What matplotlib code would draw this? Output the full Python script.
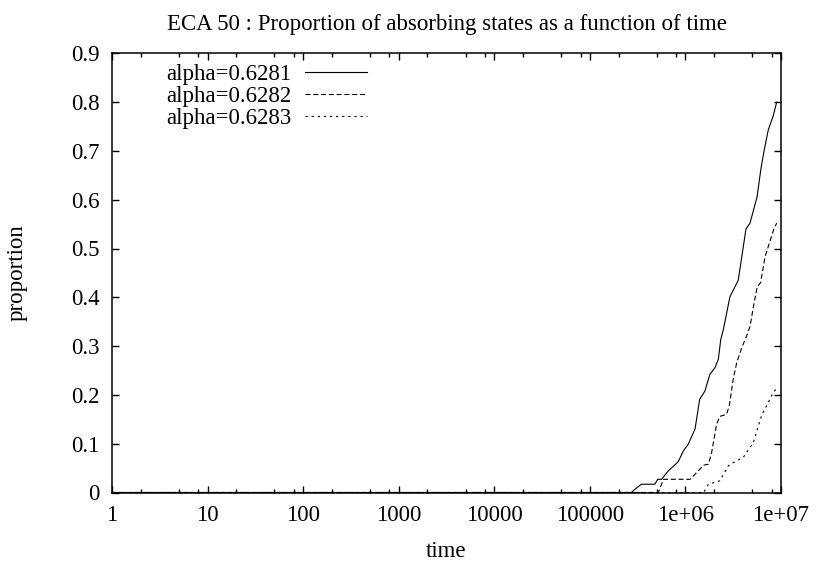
import matplotlib
matplotlib.use("Agg")
import matplotlib.pyplot as plt
from matplotlib.ticker import FixedLocator, NullFormatter

# Proportion of absorbing states over time, one series per alpha
t_6281 = [1, 2.72e5, 2.95e5, 3.47e5, 4.79e5, 5.13e5, 5.62e5, 6.6e5, 8.4e5, 9.5e5,
          1.07e6, 1.26e6, 1.41e6, 1.6e6, 1.8e6, 2.04e6, 2.21e6, 2.34e6, 2.5e6, 2.92e6,
          3.57e6, 4.3e6, 4.74e6, 5.62e6, 6.17e6, 6.68e6, 7.36e6, 8.32e6, 9.02e6]
p_6281 = [0, 0, 0.0065, 0.017, 0.017, 0.027, 0.027, 0.044, 0.063, 0.085,
          0.099, 0.130, 0.191, 0.208, 0.242, 0.256, 0.273, 0.313, 0.335, 0.401,
          0.435, 0.540, 0.552, 0.606, 0.664, 0.702, 0.743, 0.773, 0.800]

t_6282 = [1, 5.2e5, 5.89e5, 1.12e6, 1.55e6, 1.74e6, 1.88e6, 2.12e6, 2.29e6, 2.69e6,
          2.88e6, 3.16e6, 3.44e6, 3.89e6, 4.37e6, 4.74e6, 5.22e6, 5.65e6, 6.12e6,
          6.81e6, 7.55e6, 8.45e6, 9.02e6]
p_6282 = [0, 0, 0.027, 0.027, 0.056, 0.058, 0.082, 0.140, 0.156, 0.160,
          0.178, 0.232, 0.266, 0.297, 0.321, 0.340, 0.388, 0.422, 0.430,
          0.483, 0.511, 0.541, 0.552]

t_6283 = [1, 1.55e6, 1.74e6, 2.29e6, 2.82e6, 3.16e6, 4.03e6, 5.13e6, 6.31e6,
          6.81e6, 7.94e6, 9.02e6]
p_6283 = [0, 0, 0.017, 0.024, 0.055, 0.061, 0.072, 0.102, 0.160,
          0.171, 0.198, 0.215]

labels = ["alpha=0.6281", "alpha=0.6282", "alpha=0.6283"]
x_ticks = [1, 10, 100, 1000, 10000, 100000, 1e6, 1e7]
x_ticklabels = ["1", "10", "100", "1000", "10000", "100000", "1e+06", "1e+07"]
y_ticks = [0, 0.1, 0.2, 0.3, 0.4, 0.5, 0.6, 0.7, 0.8, 0.9]
y_ticklabels = ["0", "0.1", "0.2", "0.3", "0.4", "0.5", "0.6", "0.7", "0.8", "0.9"]

plt.rcParams["font.family"] = ["Liberation Serif", "DejaVu Serif"]
plt.rcParams["font.size"] = 16.5

W, H = 816, 564
fig = plt.figure(figsize=(W / 100, H / 100), dpi=100)
L, R, T, B = 112, 781, 53.3, 492.5
ax = fig.add_axes([L / W, 1 - B / H, (R - L) / W, (B - T) / H])

lw = 0.8
ax.plot(t_6281, p_6281, color="black", lw=lw, linestyle="-", label=labels[0])
ax.plot(t_6282, p_6282, color="black", lw=lw, linestyle=(0, (4.5, 2.5)), label=labels[1])
ax.plot(t_6283, p_6283, color="black", lw=lw, linestyle=(0, (2, 3.5)), label=labels[2])

ax.set_xscale("log")
ax.set_xlim(1, 1e7)
ax.set_ylim(0, 0.9)

ax.xaxis.set_major_locator(FixedLocator(x_ticks))
ax.set_xticklabels(x_ticklabels)
minor = [m * 10 ** k for k in range(7) for m in (2, 5, 8)]
ax.xaxis.set_minor_locator(FixedLocator(minor))
ax.xaxis.set_minor_formatter(NullFormatter())
ax.set_yticks(y_ticks)
ax.set_yticklabels(y_ticklabels)

for s in ax.spines.values():
    s.set_linewidth(1.1)
ax.tick_params(which="both", direction="in", top=True, right=True, width=1.0)
ax.tick_params(which="major", length=5.2, pad=9)
ax.tick_params(which="minor", length=2.6)

ax.set_xlabel("time", va="baseline")
ax.xaxis.set_label_coords(0.5, (B - 556.7) / (B - T))
ax.set_ylabel("proportion", va="center", ha="center")
ax.yaxis.set_label_coords((17 - L) / (R - L), 0.5)

fig.text((L + R) / 2 / W, 1 - 30 / H, "ECA 50 : Proportion of absorbing states as a function of time",
         ha="center", va="baseline")

ax.legend(loc="upper right", bbox_to_anchor=(367 / W, 1 - 64 / H),
          bbox_transform=fig.transFigure, frameon=False, markerfirst=False,
          borderpad=0, borderaxespad=0, handlelength=2.7, handletextpad=0.6,
          labelspacing=0.035)

fig.savefig("out.png", dpi=100)
